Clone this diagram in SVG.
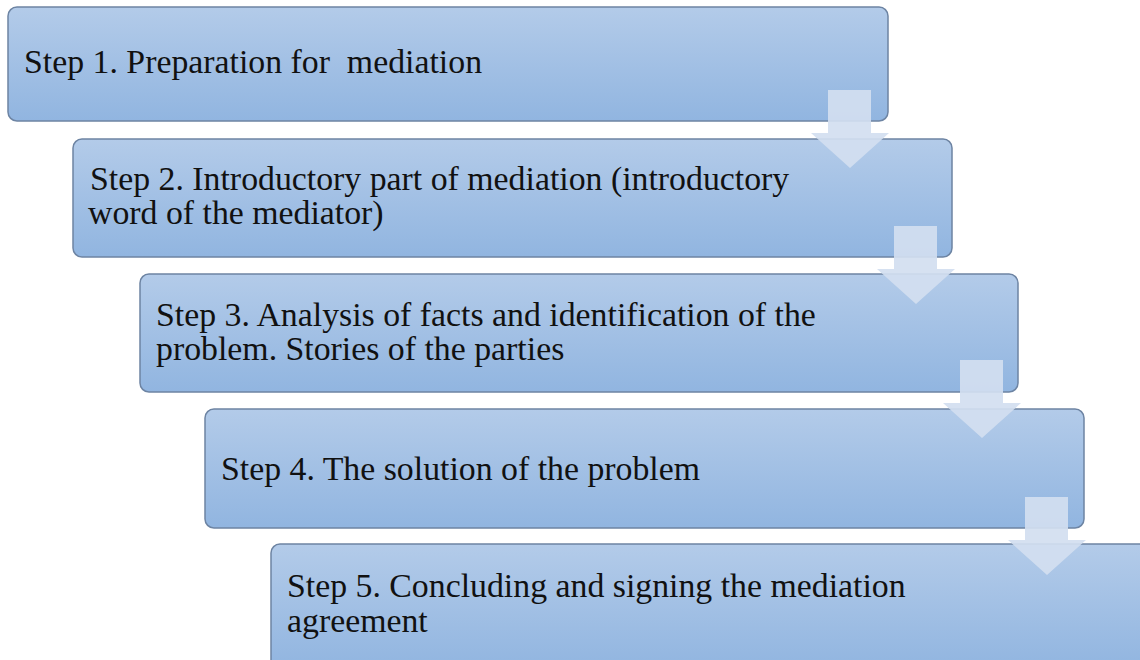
<svg xmlns="http://www.w3.org/2000/svg" width="1140" height="660" viewBox="0 0 1140 660">
<defs>
<linearGradient id="g" x1="0" y1="0" x2="0" y2="1">
<stop offset="0" stop-color="#b3cbe9"/>
<stop offset="1" stop-color="#91b5e0"/>
</linearGradient>
<polygon id="arr" points="828,90 871,90 871,133 889,133 850,168 811,133 828,133"/>
</defs>
<style>
.box{fill:url(#g);stroke:#6d84a3;stroke-width:1.5}
.t{font-family:"Liberation Serif","Times New Roman",serif;font-size:33.8px;fill:#111}
.a{fill:#d2def0;opacity:0.92}
</style>
<rect width="1140" height="660" fill="#fff"/>
<g id="step1">
<rect class="box" x="8" y="7" width="880" height="114" rx="9"/>
<text class="t" x="24" y="73" xml:space="preserve">Step 1. Preparation for  mediation</text>
</g>
<g id="step2">
<rect class="box" x="73" y="139" width="879" height="118" rx="9"/>
<text class="t" x="90" y="190">Step 2. Introductory part of mediation (introductory</text>
<text class="t" x="88" y="224">word of the mediator)</text>
</g>
<g id="step3">
<rect class="box" x="140" y="274" width="878" height="118" rx="9"/>
<text class="t" x="156" y="326">Step 3. Analysis of facts and identification of the</text>
<text class="t" x="156" y="360">problem. Stories of the parties</text>
</g>
<g id="step4">
<rect class="box" x="205" y="409" width="879" height="119" rx="9"/>
<text class="t" x="221" y="480">Step 4. The solution of the problem</text>
</g>
<g id="step5">
<rect class="box" x="271" y="544" width="880" height="125" rx="9"/>
<text class="t" x="287" y="597">Step 5. Concluding and signing the mediation</text>
<text class="t" x="287" y="632">agreement</text>
</g>
<g id="connectors">
<use href="#arr" class="a"/>
<use href="#arr" class="a" transform="translate(66,136)"/>
<use href="#arr" class="a" transform="translate(132,270)"/>
<use href="#arr" class="a" transform="translate(197,407)"/>
</g>
</svg>
